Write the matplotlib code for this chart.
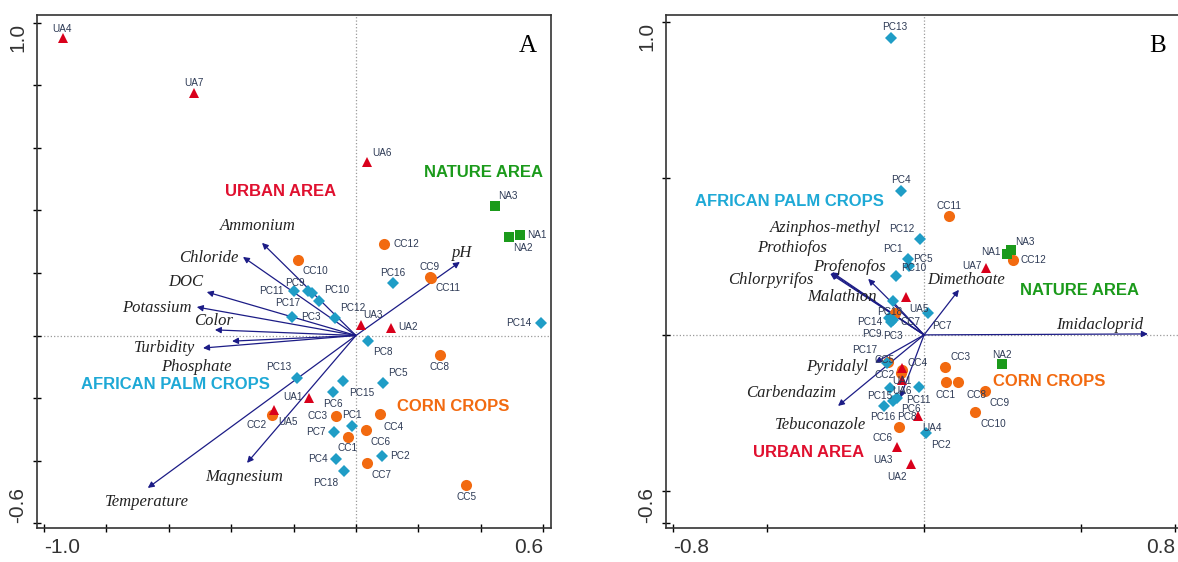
import numpy as np
import matplotlib
matplotlib.use("Agg")
import matplotlib.pyplot as plt

plt.rcParams['font.family'] = ['Liberation Sans', 'DejaVu Sans']

# ---------------- Panel A: environmental variables ----------------
A_UA_NAMES = ['UA1', 'UA2', 'UA3', 'UA4', 'UA5', 'UA6', 'UA7']
A_UA_X = [-0.151, 0.112, 0.016, -0.939, -0.263, 0.035, -0.519]
A_UA_Y = [-0.200, 0.024, 0.034, 0.950, -0.238, 0.554, 0.775]

A_NA_NAMES = ['NA1', 'NA2', 'NA3']
A_NA_X = [0.526, 0.490, 0.446]
A_NA_Y = [0.321, 0.315, 0.414]

A_CC_NAMES = ['CC1', 'CC2', 'CC3', 'CC4', 'CC5', 'CC6', 'CC7', 'CC8',
              'CC9', 'CC10', 'CC11', 'CC12']
A_CC_X = [-0.026, -0.269, -0.064, 0.077, 0.353, 0.032, 0.035, 0.269,
          0.237, -0.186, 0.240, 0.090]
A_CC_Y = [-0.324, -0.254, -0.257, -0.251, -0.478, -0.302, -0.407, -0.062,
          0.187, 0.241, 0.184, 0.292]

A_PC_NAMES = ['PC1', 'PC2', 'PC3', 'PC4', 'PC5', 'PC6', 'PC7', 'PC8', 'PC9',
              'PC10', 'PC11', 'PC12', 'PC13', 'PC14', 'PC15', 'PC16', 'PC17', 'PC18']
A_PC_X = [-0.013, 0.083, -0.205, -0.064, 0.087, -0.074, -0.071, 0.038, -0.154,
          -0.119, -0.199, -0.067, -0.189, 0.593, -0.042, 0.119, -0.141, -0.038]
A_PC_Y = [-0.289, -0.385, 0.059, -0.395, -0.152, -0.181, -0.308, -0.018, 0.142,
          0.110, 0.142, 0.056, -0.136, 0.040, -0.145, 0.168, 0.136, -0.433]

A_VAR_NAMES = ['Ammonium', 'Chloride', 'DOC', 'Potassium', 'Color', 'Phosphate',
               'Turbidity', 'Temperature', 'Magnesium', 'pH']
A_VAR_X = [-0.301, -0.362, -0.478, -0.510, -0.452, -0.397, -0.490, -0.667, -0.349, 0.333]
A_VAR_Y = [0.296, 0.251, 0.139, 0.091, 0.018, -0.018, -0.040, -0.487, -0.407, 0.235]

# ---------------- Panel B: pesticides ----------------
B_UA_NAMES = ['UA1', 'UA2', 'UA3', 'UA4', 'UA5', 'UA6', 'UA7']
B_UA_X = [-0.070, -0.041, -0.086, -0.019, -0.057, -0.070, 0.197]
B_UA_Y = [-0.105, -0.412, -0.358, -0.259, 0.121, -0.144, 0.214]

B_NA_NAMES = ['NA1', 'NA2', 'NA3']
B_NA_X = [0.264, 0.248, 0.277]
B_NA_Y = [0.259, -0.093, 0.272]

B_CC_NAMES = ['CC1', 'CC2', 'CC3', 'CC4', 'CC5', 'CC6', 'CC7', 'CC8',
              'CC9', 'CC10', 'CC11', 'CC12']
B_CC_X = [0.070, -0.073, 0.067, -0.070, -0.115, -0.080, -0.092, 0.108,
          0.194, 0.162, 0.080, 0.283]
B_CC_Y = [-0.150, -0.121, -0.102, -0.112, -0.086, -0.294, 0.070, -0.150,
          -0.179, -0.246, 0.380, 0.240]

B_PC_NAMES = A_PC_NAMES
B_PC_X = [-0.051, 0.006, -0.099, -0.073, -0.048, -0.086, 0.013, -0.099, -0.105,
          -0.089, -0.016, -0.013, -0.105, -0.111, -0.108, -0.127, -0.118, -0.099]
B_PC_Y = [0.243, -0.313, 0.048, 0.460, 0.220, -0.201, 0.070, -0.211, 0.042,
          0.188, -0.166, 0.307, 0.949, 0.054, -0.169, -0.227, -0.089, 0.109]

B_VAR_NAMES = ['Azinphos-methyl', 'Prothiofos', 'Chlorpyrifos', 'Profenofos',
               'Malathion', 'Dimethoate', 'Imidacloprid', 'Pyridalyl',
               'Carbendazim', 'Tebuconazole']
B_VAR_X = [-0.293, -0.296, -0.299, -0.178, -0.108, 0.111, 0.713, -0.156, -0.274, -0.076]
B_VAR_Y = [0.200, 0.198, 0.196, 0.179, 0.115, 0.144, 0.003, -0.089, -0.227, -0.201]

# ---------------- layout: label offsets in pixels (dx, dy up) ----------------
A_LABEL_OFF = {
    'UA1': (-16, 1), 'UA2': (17, 1), 'UA3': (12, 10), 'UA4': (-1, 9), 'UA5': (14, -12),
    'UA6': (15, 9), 'UA7': (0, 10),
    'NA1': (17, 0), 'NA2': (14, -11), 'NA3': (13, 10),
    'CC1': (0, -11), 'CC2': (-15, -10), 'CC3': (-18, 0), 'CC4': (14, -13), 'CC5': (0, -12),
    'CC6': (15, -12), 'CC7': (15, -12), 'CC8': (0, -12), 'CC9': (0, 10), 'CC10': (17, -11),
    'CC11': (17, -10), 'CC12': (22, 0),
    'PC1': (0, 11), 'PC2': (18, 0), 'PC3': (19, 0), 'PC4': (-18, 0), 'PC5': (15, 10),
    'PC6': (0, -12), 'PC7': (-18, 0), 'PC8': (15, -11), 'PC9': (-13, 8), 'PC10': (18, 11),
    'PC11': (-22, 0), 'PC12': (18, 10), 'PC13': (-18, 11), 'PC14': (-22, 0), 'PC15': (19, -12),
    'PC16': (0, 10), 'PC17': (-24, -10), 'PC18': (-18, -12),
}
B_LABEL_OFF = {
    'UA1': (0, -13), 'UA2': (-14, -13), 'UA3': (-14, -13), 'UA4': (14, -12), 'UA5': (13, -12),
    'UA6': (0, -11), 'UA7': (-14, 2),
    'NA1': (-16, 2), 'NA2': (0, 9), 'NA3': (14, 8),
    'CC1': (0, -13), 'CC2': (-17, -2), 'CC3': (15, 10), 'CC4': (15, 7), 'CC5': (-3, 2),
    'CC6': (-16, -11), 'CC7': (15, -9), 'CC8': (19, -13), 'CC9': (15, -12), 'CC10': (18, -12),
    'CC11': (0, 10), 'CC12': (20, 0),
    'PC1': (-15, 10), 'PC2': (15, -12), 'PC3': (0, -16), 'PC4': (0, 11), 'PC5': (14, 7),
    'PC6': (14, -11), 'PC7': (14, -13), 'PC8': (14, -16), 'PC9': (-19, -12), 'PC10': (18, 8),
    'PC11': (-1, -13), 'PC12': (-18, 10), 'PC13': (4, 11), 'PC14': (-19, -4), 'PC15': (-10, -8),
    'PC16': (-1, -11), 'PC17': (-22, 13), 'PC18': (-3, -11),
}
A_VAR_OFF = [(-4, 17), (-34, -1), (-21, 10), (-40, -1), (-1, 9), (-36, -26),
             (-38, 0), (-1, -14), (-3, -14), (2, 9)]
B_VAR_OFF = [(-7, 44), (-39, 25), (-59, -6), (-19, 12), (-48, 2), (7, 10),
             (-48, 9), (-38, -4), (-47, 13), (-80, -27)]

# group titles: (text, x, y) in data units
A_GROUPS = [('URBAN AREA', -0.24, 0.46), ('NATURE AREA', 0.41, 0.52),
            ('AFRICAN PALM CROPS', -0.58, -0.158), ('CORN CROPS', 0.312, -0.228)]
B_GROUPS = [('URBAN AREA', -0.367, -0.377), ('NATURE AREA', 0.494, 0.141),
            ('AFRICAN PALM CROPS', -0.430, 0.425), ('CORN CROPS', 0.398, -0.150)]

C_UA = '#d9001b'
C_NA = '#1b9a1b'
C_CC = '#f26a10'
C_PC = '#1f9dc6'
C_LBL = '#2d3a55'
C_ARROW = '#1c1c86'
GROUP_COLORS = {'URBAN AREA': '#e0102f', 'NATURE AREA': '#1b9a1b',
                'AFRICAN PALM CROPS': '#1ea9d6', 'CORN CROPS': '#f26a10'}


def draw_points(ax, names, xs, ys, marker, color, ms, offsets):
    ax.plot(xs, ys, linestyle='none', marker=marker, color=color,
            markersize=ms, markeredgewidth=0, zorder=3)
    for n, x, y in zip(names, xs, ys):
        dx, dy = offsets[n]
        ax.annotate(n, (x, y), xytext=(dx, dy), textcoords='offset pixels',
                    ha='center', va='center', fontsize=7.2, color=C_LBL, zorder=5)


def draw_arrows(ax, names, xs, ys, offsets):
    for n, x, y, (dx, dy) in zip(names, xs, ys, offsets):
        ax.annotate('', xy=(x, y), xytext=(0, 0),
                    arrowprops=dict(arrowstyle='-|>', color=C_ARROW, lw=0.9,
                                    mutation_scale=9, shrinkA=0, shrinkB=0), zorder=2)
        ax.annotate(n, (x, y), xytext=(dx, dy), textcoords='offset pixels',
                    ha='center', va='center', fontsize=12, style='italic',
                    family='Liberation Serif', color='#222222', zorder=4)


def style_axes(ax, xlim, ylim, xticks, yticks, letter):
    ax.set_xlim(xlim)
    ax.set_ylim(ylim)
    ax.axhline(0, color='#9a9a9a', linestyle=':', lw=0.9, zorder=1)
    ax.axvline(0, color='#9a9a9a', linestyle=':', lw=0.9, zorder=1)
    ax.set_xticks(xticks)
    ax.set_yticks(yticks)
    xl = ['' for _ in xticks]
    xl[0] = f'{xticks[0]:.1f}'
    xl[-1] = f'{xticks[-1]:.1f}'
    yl = ['' for _ in yticks]
    yl[0] = f'{yticks[0]:.1f}'
    yl[-1] = f'{yticks[-1]:.1f}'
    ax.set_xticklabels(xl, fontsize=15, color='#333333')
    ax.set_yticklabels(yl, fontsize=15, color='#333333', rotation=90)
    ax.tick_params(direction='inout', length=6, width=1.0, pad=4)
    labs = ax.get_xticklabels()
    labs[0].set_ha('left')
    labs[-1].set_ha('right')
    ylabs = ax.get_yticklabels()
    ylabs[0].set_va('bottom')
    ylabs[-1].set_va('top')
    for s in ax.spines.values():
        s.set_linewidth(1.2)
        s.set_color('#333333')
    ax.text(0.955, 0.94, letter, transform=ax.transAxes, fontsize=18,
            family='Liberation Serif', ha='center', va='center')


def draw_groups(ax, groups):
    for text, x, y in groups:
        ax.text(x, y, text, color=GROUP_COLORS[text], fontsize=12,
                fontweight='bold', ha='center', va='center', zorder=4)


fig = plt.figure(figsize=(11.78, 5.62), dpi=100)
axA = fig.add_axes([37 / 1178, 34 / 562, 514 / 1178, 513 / 562])
axB = fig.add_axes([666 / 1178, 34 / 562, 518 / 1178, 513 / 562])

# Panel A
draw_arrows(axA, A_VAR_NAMES, A_VAR_X, A_VAR_Y, A_VAR_OFF)
draw_points(axA, A_CC_NAMES, A_CC_X, A_CC_Y, 'o', C_CC, 8, A_LABEL_OFF)
draw_points(axA, A_PC_NAMES, A_PC_X, A_PC_Y, 'D', C_PC, 6.5, A_LABEL_OFF)
draw_points(axA, A_NA_NAMES, A_NA_X, A_NA_Y, 's', C_NA, 7.5, A_LABEL_OFF)
draw_points(axA, A_UA_NAMES, A_UA_X, A_UA_Y, '^', C_UA, 7.5, A_LABEL_OFF)
draw_groups(axA, A_GROUPS)
style_axes(axA, (-1.022, 0.625), (-0.615, 1.024),
           [-1.0, -0.8, -0.6, -0.4, -0.2, 0.0, 0.2, 0.4, 0.6],
           [-0.6, -0.4, -0.2, 0.0, 0.2, 0.4, 0.6, 0.8, 1.0], 'A')

# Panel B
draw_arrows(axB, B_VAR_NAMES, B_VAR_X, B_VAR_Y, B_VAR_OFF)
draw_points(axB, B_CC_NAMES, B_CC_X, B_CC_Y, 'o', C_CC, 8, B_LABEL_OFF)
draw_points(axB, B_PC_NAMES, B_PC_X, B_PC_Y, 'D', C_PC, 6.5, B_LABEL_OFF)
draw_points(axB, B_NA_NAMES, B_NA_X, B_NA_Y, 's', C_NA, 7.5, B_LABEL_OFF)
draw_points(axB, B_UA_NAMES, B_UA_X, B_UA_Y, '^', C_UA, 7.5, B_LABEL_OFF)
draw_groups(axB, B_GROUPS)
style_axes(axB, (-0.822, 0.828), (-0.617, 1.022),
           [-0.8, -0.5, 0.0, 0.5, 0.8],
           [-0.6, -0.5, 0.0, 0.5, 1.0], 'B')
axB.texts[-1].set_position((0.949, 0.94))

fig.savefig('out.png', dpi=100)
